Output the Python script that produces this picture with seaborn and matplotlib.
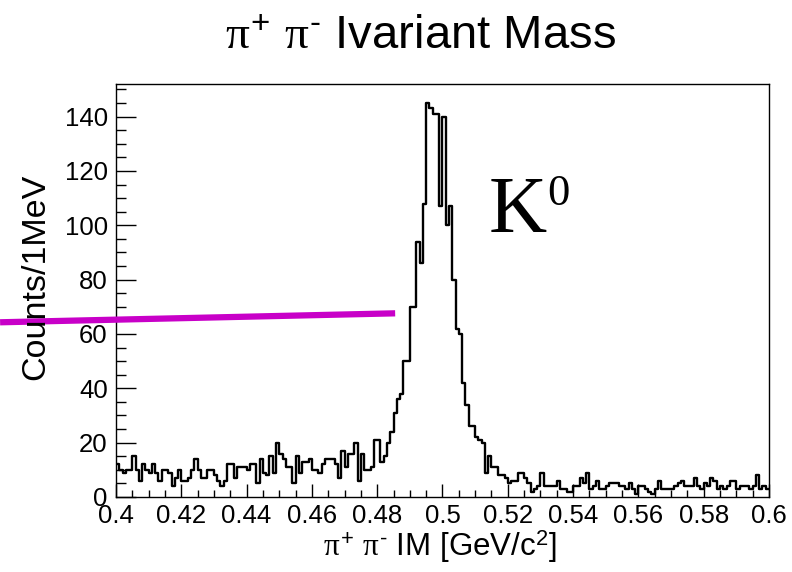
import numpy as np
import pandas as pd
import matplotlib
matplotlib.use("Agg")
import matplotlib.pyplot as plt
import seaborn as sns

# pi+ pi- invariant mass histogram, 1 MeV bins from 0.40 to 0.60 GeV/c^2
mass_lo, mass_hi, n_bins = 0.40, 0.60, 200
counts = [
    12, 10, 9, 10, 10, 15, 10, 6, 12, 10, 9, 12, 9, 6, 10, 10, 9, 4, 7, 10,
    6, 6, 7, 10, 14, 10, 7, 7, 10, 10, 8, 6, 4, 6, 12, 12, 7, 11, 11, 11,
    10, 12, 12, 5, 14, 9, 8, 15, 9, 20, 16, 14, 11, 11, 5, 15, 9, 13, 13, 14,
    10, 10, 9, 12, 14, 14, 14, 12, 7, 17, 11, 16, 16, 20, 6, 16, 10, 10, 11, 21,
    21, 13, 15, 20, 24, 31, 36, 38, 50, 50, 70, 70, 94, 86, 108, 145, 143, 141, 141, 107,
    140, 100, 107, 80, 62, 60, 42, 34, 26, 26, 22, 21, 20, 9, 15, 11, 11, 8, 8, 7,
    5, 6, 6, 9, 9, 7, 5, 2, 3, 4, 9, 4, 4, 4, 4, 6, 3, 3, 2, 2,
    4, 4, 7, 5, 9, 3, 4, 6, 3, 3, 4, 5, 5, 5, 4, 4, 3, 5, 3, 1,
    4, 4, 3, 2, 1, 3, 6, 3, 3, 3, 3, 4, 5, 6, 4, 4, 4, 7, 4, 3,
    5, 4, 7, 6, 3, 4, 3, 4, 6, 6, 3, 4, 4, 4, 3, 4, 8, 3, 4, 3,
]
x_ticks = [0.40, 0.42, 0.44, 0.46, 0.48, 0.50, 0.52, 0.54, 0.56, 0.58, 0.60]
x_tick_labels = ["0.4", "0.42", "0.44", "0.46", "0.48", "0.5", "0.52", "0.54", "0.56", "0.58", "0.6"]
y_ticks = [0, 20, 40, 60, 80, 100, 120, 140]
y_max = 152.0

# magenta pointer line drawn across the left edge of the frame
pointer_x = [0.3645, 0.4855]
pointer_y = [64.3, 67.6]

edges = np.linspace(mass_lo, mass_hi, n_bins + 1)
centers = 0.5 * (edges[:-1] + edges[1:])
df = pd.DataFrame({"mass": centers, "counts": np.asarray(counts, dtype=float)})

sns.set_theme(style="ticks")
plt.rcParams["font.family"] = ["Liberation Sans", "DejaVu Sans"]
plt.rcParams["mathtext.fontset"] = "custom"
plt.rcParams["mathtext.rm"] = "Liberation Sans"
plt.rcParams["mathtext.it"] = "Liberation Serif"
plt.rcParams["mathtext.sf"] = "Liberation Sans"

fig = plt.figure(figsize=(7.92, 5.72), dpi=100)
fig.patch.set_facecolor("white")
ax = fig.add_axes([116 / 792, 75 / 572, 653 / 792, 413 / 572])
ax.set_facecolor("white")

sns.histplot(data=df, x="mass", weights="counts", bins=list(edges), element="step",
             fill=False, color="black", linewidth=1.7, ax=ax)

ax.set_xlim(mass_lo, mass_hi)
ax.set_ylim(0, y_max)
ax.set_xlabel("")
ax.set_ylabel("")

ax.set_xticks(x_ticks)
ax.set_xticklabels(x_tick_labels)
ax.set_xticks(np.arange(mass_lo, mass_hi + 1e-9, 0.005), minor=True)
ax.set_yticks(y_ticks)
ax.set_yticks(np.arange(0, y_max, 5), minor=True)

ax.tick_params(axis="both", which="both", direction="in", colors="black",
               labelsize=18.5, width=1.0, top=False, right=False)
ax.tick_params(axis="x", which="major", length=9.4, pad=5)
ax.tick_params(axis="x", which="minor", length=4.7)
ax.tick_params(axis="y", which="major", length=14.4, pad=6)
ax.tick_params(axis="y", which="minor", length=7.2)

for side in ["left", "right", "top", "bottom"]:
    ax.spines[side].set_visible(True)
    ax.spines[side].set_color("black")
    ax.spines[side].set_linewidth(1.0)

ax.plot(pointer_x, pointer_y, color="#C800C8", linewidth=4.5,
        solid_capstyle="butt", clip_on=False, zorder=5)

fig.text(421 / 792, 1 - 36 / 572, r"$\pi^{+}$ $\pi^{\text{-}}$ Ivariant Mass",
         ha="center", va="center", fontsize=34, color="black")
fig.text(440 / 792, 1 - 547 / 572, r"$\pi^{+}$ $\pi^{\text{-}}$ IM [GeV/c$^{2}$]",
         ha="center", va="center", fontsize=22.5, color="black")
fig.text(36 / 792, 1 - 277 / 572, "Counts/1MeV", rotation=90,
         ha="center", va="center", fontsize=24.5, color="black")

fig.text(489 / 792, 1 - 232 / 572, "K", ha="left", va="baseline",
         fontsize=58, family="Liberation Serif", color="black")
fig.text(547 / 792, 1 - 205 / 572, "0", ha="left", va="baseline",
         fontsize=32, family="Liberation Serif", color="black")

fig.savefig("out.png", dpi=100, facecolor="white")
